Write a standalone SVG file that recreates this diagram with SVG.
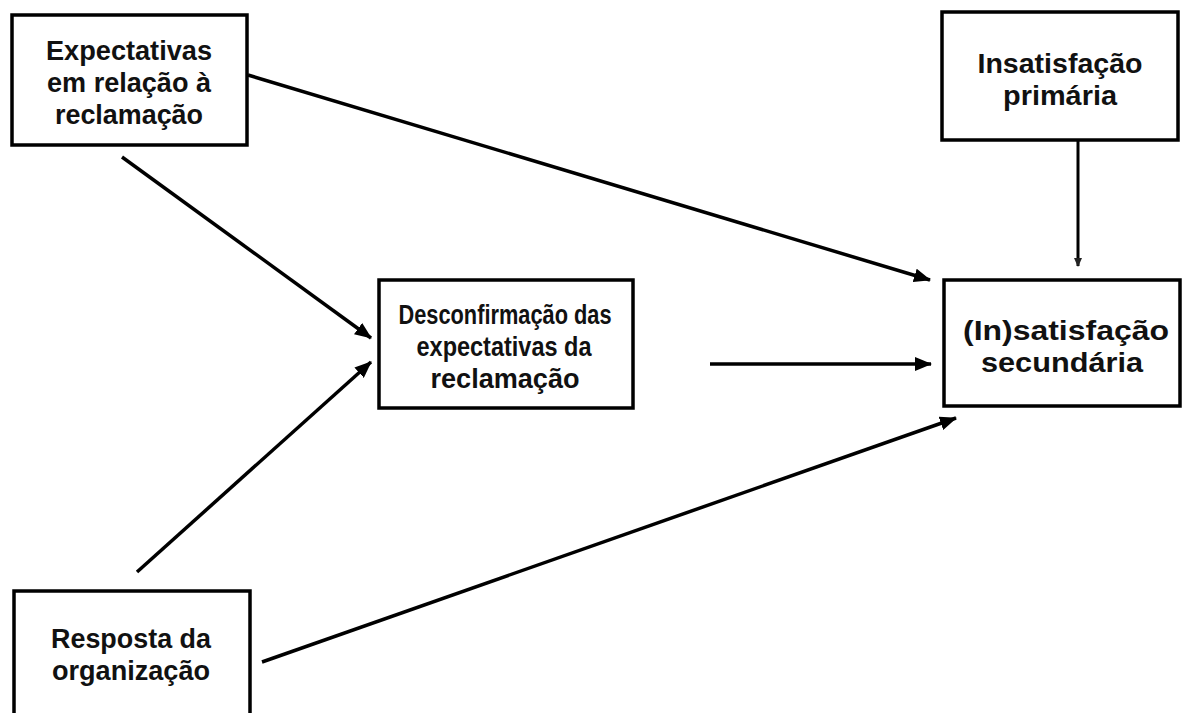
<svg xmlns="http://www.w3.org/2000/svg" width="1184" height="713" viewBox="0 0 1184 713">
  <style>
    .box { fill: #fff; stroke: #000; stroke-width: 3.5; }
    .lbl { font-family: "Liberation Sans", Arial, sans-serif; font-weight: bold; font-size: 27px; fill: #111; text-anchor: middle; }
    .edge { stroke: #000; stroke-width: 3.5; fill: none; marker-end: url(#head); }
    .edge.small { stroke-width: 3; marker-end: url(#head-small); }
  </style>
  <defs>
    <marker id="head" markerUnits="userSpaceOnUse" markerWidth="18" markerHeight="14" refX="16" refY="7" orient="auto">
      <path d="M0,0 L17,7 L0,14 Z" fill="#000"/>
    </marker>
    <marker id="head-small" markerUnits="userSpaceOnUse" markerWidth="10" markerHeight="10" refX="8" refY="5" orient="auto">
      <path d="M0,1 L9,5 L0,9 Z" fill="#222"/>
    </marker>
  </defs>
  <rect width="1184" height="713" fill="#fff"/>

  <g id="connectors">
    <line class="edge" x1="248" y1="75" x2="930" y2="280"/>
    <line class="edge" x1="122" y1="157" x2="371" y2="338"/>
    <line class="edge" x1="137" y1="572" x2="371" y2="362"/>
    <line class="edge" x1="710" y1="364" x2="931" y2="364"/>
    <line class="edge" x1="262" y1="662" x2="956" y2="418"/>
    <line class="edge small" x1="1078" y1="140" x2="1078" y2="266"/>
  </g>

  <g id="expectativas">
    <rect class="box" x="12" y="15" width="235" height="130"/>
    <text class="lbl" x="129" y="60" textLength="166" lengthAdjust="spacingAndGlyphs">Expectativas</text>
    <text class="lbl" x="129" y="92" textLength="164" lengthAdjust="spacingAndGlyphs">em relação à</text>
    <text class="lbl" x="129" y="124" textLength="148" lengthAdjust="spacingAndGlyphs">reclamação</text>
  </g>

  <g id="insatisfacao-primaria">
    <rect class="box" x="942" y="12" width="236" height="128"/>
    <text class="lbl" x="1060" y="73" textLength="165" lengthAdjust="spacingAndGlyphs">Insatisfação</text>
    <text class="lbl" x="1060" y="105" textLength="114" lengthAdjust="spacingAndGlyphs">primária</text>
  </g>

  <g id="desconfirmacao">
    <rect class="box" x="379" y="280" width="254" height="128"/>
    <text class="lbl" x="505" y="324" textLength="213" lengthAdjust="spacingAndGlyphs">Desconfirmação das</text>
    <text class="lbl" x="504" y="356" textLength="175" lengthAdjust="spacingAndGlyphs">expectativas da</text>
    <text class="lbl" x="505" y="388" textLength="149" lengthAdjust="spacingAndGlyphs">reclamação</text>
  </g>

  <g id="insatisfacao-secundaria">
    <rect class="box" x="944" y="280" width="236" height="126"/>
    <text class="lbl" x="1066" y="340" textLength="206" lengthAdjust="spacingAndGlyphs">(In)satisfação</text>
    <text class="lbl" x="1062" y="372" textLength="162" lengthAdjust="spacingAndGlyphs">secundária</text>
  </g>

  <g id="resposta">
    <rect class="box" x="14" y="591" width="236" height="140"/>
    <text class="lbl" x="131" y="648" textLength="160" lengthAdjust="spacingAndGlyphs">Resposta da</text>
    <text class="lbl" x="131" y="680" textLength="158" lengthAdjust="spacingAndGlyphs">organização</text>
  </g>
</svg>
